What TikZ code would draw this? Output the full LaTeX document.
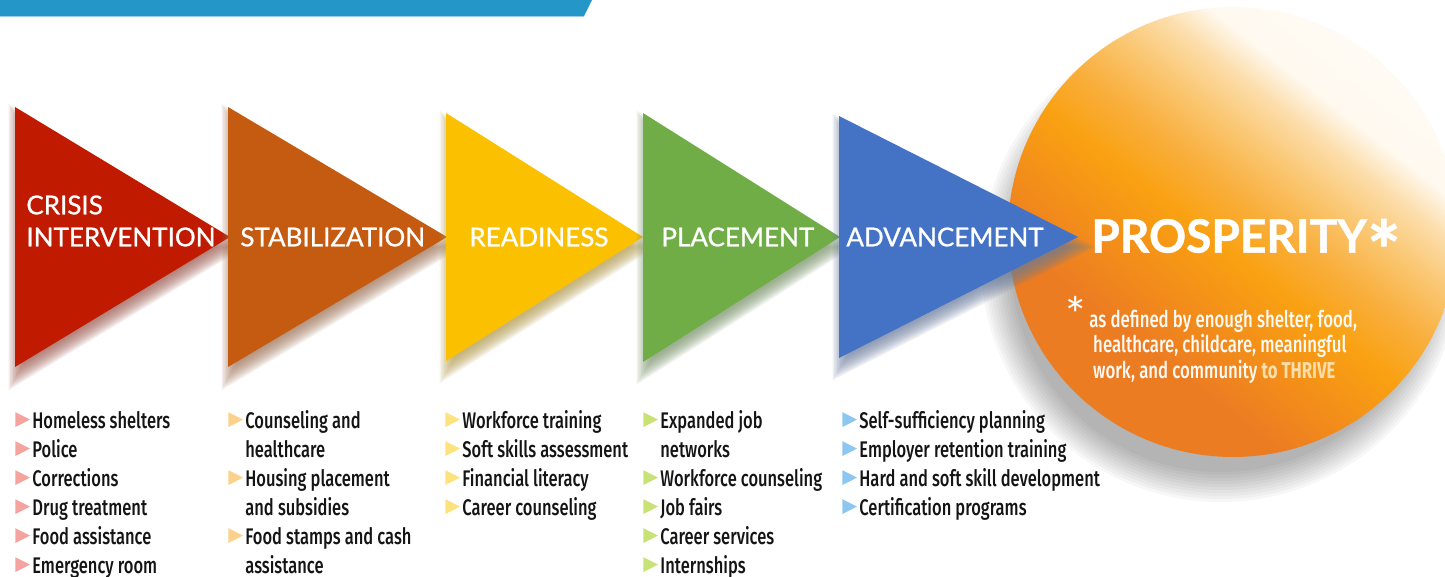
\documentclass[tikz,border=0pt]{standalone}
\usepackage{fontspec}
\newfontfamily\phasefont[FakeBold=0.9]{Lato}
\newfontfamily\starfont{Lato}
\newfontfamily\condfont[FakeStretch=0.73,UprightFont=* Medium,BoldFont=* Bold]{Fira Sans}
\usetikzlibrary{positioning}

\definecolor{topbar}{HTML}{2596C8}
\definecolor{crisisred}{HTML}{C01A00}
\definecolor{stabilorange}{HTML}{C55A11}
\definecolor{readyyellow}{HTML}{FBC000}
\definecolor{placegreen}{HTML}{70AD47}
\definecolor{advanceblue}{HTML}{4472C4}
\definecolor{bulpink}{HTML}{F5A39E}
\definecolor{bulorange}{HTML}{FCD18C}
\definecolor{bulyellow}{HTML}{FDE27E}
\definecolor{bulgreen}{HTML}{C8E276}
\definecolor{bulblue}{HTML}{8DC7F0}
\definecolor{orangeD}{HTML}{EC7C22}
\definecolor{orangeA}{HTML}{F59417}
\definecolor{orangeM}{HTML}{F9A112}
\definecolor{orangeB}{HTML}{F9B040}
\definecolor{orangeL}{HTML}{FAC670}
\definecolor{creamA}{HTML}{FCDDAA}
\definecolor{creamL}{HTML}{FFF9F0}
\definecolor{thrive}{HTML}{FCDFA8}

\pgfdeclareverticalshading{prospshade}{100bp}{color(0bp)=(orangeD); color(34bp)=(orangeD); color(43bp)=(orangeA); color(48bp)=(orangeM); color(54bp)=(orangeB); color(59bp)=(orangeL); color(64bp)=(creamA); color(68bp)=(creamL); color(100bp)=(white)}

\tikzstyle{phase} = [text=white, inner sep=0pt, anchor=west, font=\phasefont\fontsize{13}{16}\selectfont]
\tikzstyle{itemlist} = [inner sep=0pt, anchor=base west, text=black!92, font=\condfont\fontsize{11.3}{14.5}\selectfont]
\tikzstyle{notetext} = [inner sep=0pt, anchor=base west, text=white!96!orange, font=\condfont\fontsize{11.5}{12.2}\selectfont]

% small bullet triangle
\newcommand{\bul}[1]{\tikz[baseline=0pt]\fill[#1] (0,0.5pt) -- (7.3pt,4.2pt) -- (0,7.9pt) -- cycle;}

\begin{document}
\begin{tikzpicture}[x=0.5pt, y=-0.5pt]
\useasboundingbox (0,0) rectangle (1445,577);
\clip (0,0) rectangle (1445,577);

% top bar
\fill[topbar] (0,0) -- (592,0) -- (584,16) -- (0,16) -- cycle;
\draw[topbar!45, line width=0.6pt] (0,16.6) -- (584,16.6);

% prosperity circle with soft shadow
\foreach \r in {210,213,...,240}
  \fill[black, opacity=0.03] (1221,262) circle[radius=\r];
\shade[shading=prospshade, shading angle=-38] (1233,232) circle[radius=225];

% phase arrows with shadows
\foreach \nm/\col/\lx/\ty/\by/\ax in {crisis/crisisred/15/107/367/230,
    stabil/stabilorange/228/107/367/447, ready/readyyellow/446/113/361/643,
    place/placegreen/643/113/362/840, advance/advanceblue/839/116/358/1078} {
  \foreach \f in {0.9,0.92,...,1.11}
    \fill[\col!40!gray, opacity=0.11, xshift=0.5pt, yshift=-5pt,
      scale around={\f:({\lx+73},237)}] (\lx,\ty) -- (\ax,237) -- (\lx,\by) -- cycle;
  \fill[\col] (\lx,\ty) -- (\ax,237) -- (\lx,\by) -- cycle;
}

% phase labels
\node[phase, align=left] (crisis) at (26,221) {CRISIS\\INTERVENTION};
\node[phase] (stabil) at (240,237) {STABILIZATION};
\node[phase] (ready) at (469,237) {READINESS};
\node[phase] (place) at (661,237) {PLACEMENT};
\node[phase] (advance) at (846,237) {ADVANCEMENT};
\node[phase, font=\phasefont\bfseries\fontsize{23}{28}\selectfont] (prosper) at (1091,236)
  {PROSPERITY\smash{\fontsize{40}{40}\selectfont\raisebox{-13.5pt}{*}}};

% footnote in circle
\node[text=white, inner sep=0pt, font=\starfont\fontsize{24}{24}\selectfont] (star) at (1076,314) {*};
\node[notetext] (note) at (1089,327) {\begin{tabular}[t]{@{}l@{}}
  as defined by enough shelter, food,\\
  \,healthcare, childcare, meaningful\\
  \,work, and community {\bfseries\color{thrive}to THRIVE}
\end{tabular}};

% item lists
\node[itemlist] (list1) at (15,428) {\begin{tabular}[t]{@{}l@{\hspace{1.2pt}}l@{}}
  \bul{bulpink} & Homeless shelters\\
  \bul{bulpink} & Police\\
  \bul{bulpink} & Corrections\\
  \bul{bulpink} & Drug treatment\\
  \bul{bulpink} & Food assistance\\
  \bul{bulpink} & Emergency room
\end{tabular}};
\node[itemlist] (list2) at (228,428) {\begin{tabular}[t]{@{}l@{\hspace{1.2pt}}l@{}}
  \bul{bulorange} & Counseling and\\
  & healthcare\\
  \bul{bulorange} & Housing placement\\
  & and subsidies\\
  \bul{bulorange} & Food stamps and cash\\
  & assistance
\end{tabular}};
\node[itemlist] (list3) at (445,428) {\begin{tabular}[t]{@{}l@{\hspace{1.2pt}}l@{}}
  \bul{bulyellow} & Workforce training\\
  \bul{bulyellow} & Soft skills assessment\\
  \bul{bulyellow} & Financial literacy\\
  \bul{bulyellow} & Career counseling
\end{tabular}};
\node[itemlist] (list4) at (643,428) {\begin{tabular}[t]{@{}l@{\hspace{1.2pt}}l@{}}
  \bul{bulgreen} & Expanded job\\
  & networks\\
  \bul{bulgreen} & Workforce counseling\\
  \bul{bulgreen} & Job fairs\\
  \bul{bulgreen} & Career services\\
  \bul{bulgreen} & Internships
\end{tabular}};
\node[itemlist] (list5) at (842,428) {\begin{tabular}[t]{@{}l@{\hspace{1.2pt}}l@{}}
  \bul{bulblue} & Self-sufficiency planning\\
  \bul{bulblue} & Employer retention training\\
  \bul{bulblue} & Hard and soft skill development\\
  \bul{bulblue} & Certification programs
\end{tabular}};
\end{tikzpicture}
\end{document}
